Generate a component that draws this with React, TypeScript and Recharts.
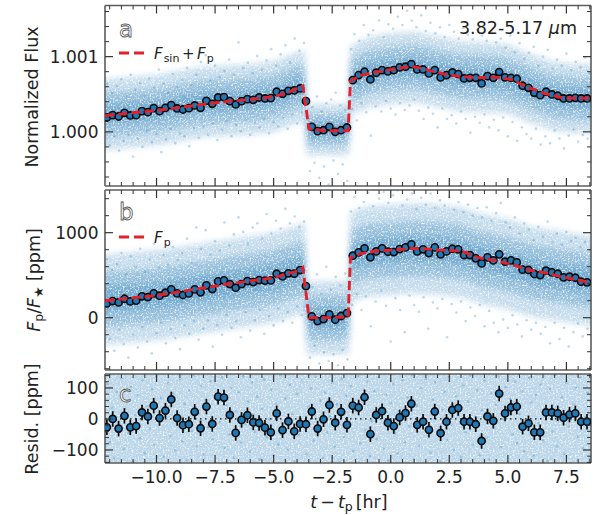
import React from 'react';
import { ComposedChart, XAxis, YAxis, Scatter, Line, Area, ErrorBar, ReferenceLine } from 'recharts';

// ---------- bins: time (hr) and values ----------
const binTimes = [-12.12,-11.87,-11.62,-11.37,-11.12,-10.87,-10.62,-10.37,-10.12,-9.87,-9.62,-9.37,-9.12,-8.87,-8.62,-8.37,-8.12,-7.87,-7.62,-7.37,-7.12,-6.87,-6.62,-6.37,-6.12,-5.87,-5.62,-5.37,-5.12,-4.87,-4.62,-4.37,-4.12,-3.87,-3.62,-3.37,-3.12,-2.87,-2.62,-2.37,-2.12,-1.87,-1.62,-1.37,-1.12,-0.87,-0.62,-0.37,-0.12,0.13,0.38,0.63,0.88,1.13,1.38,1.63,1.88,2.13,2.38,2.63,2.88,3.13,3.38,3.63,3.88,4.13,4.38,4.63,4.88,5.13,5.38,5.63,5.88,6.13,6.38,6.63,6.88,7.13,7.38,7.63,7.88,8.13,8.38];
const fluxBinsPpm = [191,222,204,253,218,222,275,262,315,275,320,355,311,297,315,351,320,413,373,457,462,408,364,408,435,426,457,444,448,533,506,546,551,577,408,67,9,22,67,0,22,58,688,755,799,697,786,821,804,821,857,866,901,830,830,777,821,724,755,790,768,710,719,719,644,741,719,795,724,719,706,613,586,519,488,533,497,480,444,444,453,444,444];
const planetBins = [169,196,180,223,192,200,251,243,286,259,294,333,286,267,286,333,298,380,337,427,439,396,353,396,431,419,443,435,439,517,486,521,517,560,372,16,-39,-16,39,-24,20,55,729,768,815,710,780,815,776,772,807,827,862,780,804,760,827,745,780,811,804,737,737,698,639,710,674,745,659,674,651,565,561,514,502,553,533,517,474,482,470,423,416];
const residBins = [-27,0,-31,10,-27,-23,21,8,43,3,27,63,3,-20,-17,23,-30,40,-16,72,69,13,-45,-3,12,-11,-13,-28,-43,18,-36,-8,-40,-16,-17,24,-31,-1,45,-12,23,-19,43,37,70,-49,13,25,-12,-23,5,19,49,-19,-9,-35,24,-46,-9,29,35,-9,-9,-17,-71,8,-6,82,18,37,40,-25,-14,-43,-43,21,21,18,4,14,18,-9,-9];
const binErrorPpm = 25;

// ---------- models ----------
const modelTimes = [-12.2,-10,-8,-7,-6,-5,-4.5,-3.9,-3.75,-3.49,-2.8,-1.82,-1.72,-1.25,-0.54,0.17,0.88,1.6,2.31,3.02,3.73,4.44,5.16,5.87,6.58,7.29,8,8.55];
const modelFluxPpm = [215,285,365,405,430,470,510,590,610,40,15,15,675,755,800,835,875,821,768,733,719,728,697,590,510,457,444,453];
const modelPlanet = [200,262,350,396,431,470,510,555,590,0,0,10,706,757,788,796,815,807,792,785,706,674,627,561,529,482,443,412];

// ---------- cloud density envelopes ----------
const bandTimes = [-12.63,-10,-8,-6,-5,-4,-3.65,-3.6,-1.78,-1.74,-1,0,1,2,3,4,5,6,7,8,8.98];
const aOuterHi = [690,760,870,900,940,1060,1080,370,370,1130,1260,1310,1330,1270,1200,1190,1160,1030,930,900,910];
const aOuterLo = [-250,-180,-70,-40,0,120,140,-310,-310,220,320,370,390,330,270,260,240,110,10,-20,-10];
const aMidHi = [505,575,685,720,760,880,900,240,240,965,1080,1130,1150,1090,1025,1015,990,860,760,730,740];
const aMidLo = [-75,-5,105,140,180,300,320,-180,-180,385,500,550,570,510,445,435,410,280,180,150,160];
const aInHi = [345,415,525,560,600,720,740,130,130,805,920,970,990,930,865,855,830,700,600,570,580];
const aInLo = [85,155,265,300,340,460,480,-70,-70,545,660,710,730,670,605,595,570,440,340,310,320];
const bOuterHi = [730,792,875,961,1000,1085,1120,430,430,1236,1310,1326,1345,1330,1300,1210,1160,1070,1030,985,945];
const bOuterLo = [-330,-268,-185,-99,-60,25,60,-430,-430,176,250,266,285,270,240,150,100,10,-30,-75,-115];
const bMidHi = [520,582,665,751,790,875,910,270,270,1026,1100,1116,1135,1120,1090,1000,950,860,820,775,735];
const bMidLo = [-120,-58,25,111,150,235,270,-270,-270,386,460,476,495,480,450,360,310,220,180,135,95];
const bInHi = [350,412,495,581,620,705,740,130,130,856,930,946,965,950,920,830,780,690,650,605,565];
const bInLo = [50,112,195,281,320,405,440,-130,-130,556,630,646,665,650,620,530,480,390,350,305,265];
const cBandTimes = [-12.63,8.98];
const cBandHi = [190,190];
const cBandLo = [-190,-190];

// ---------- individual exposures, estimated by eye ----------
const cloudAPpm = [[-12.1,640],[-12,-180],[-11.9,520],[-11.8,-60],[-11.7,610],[-11.6,-250],[-11.5,700],[-11.4,-120],[-11.3,480],[-11.2,-40],[-11.1,760],[-11,-330],[-10.9,560],[-10.8,-90],[-10.7,650],[-10.6,-200],[-10.5,470],[-10.4,20],[-10.3,710],[-10.2,-140],[-10.1,590],[-10,-30],[-9.9,830],[-9.8,-270],[-9.7,640],[-9.6,-100],[-9.5,520],[-9.4,40],[-9.3,770],[-9.2,-150],[-9.1,600],[-9,-20],[-8.9,690],[-8.8,-60],[-8.7,850],[-8.6,-190],[-8.5,620],[-8.4,50],[-8.3,760],[-8.2,-80],[-8.1,930],[-8,70],[-7.9,1020],[-7.8,-40],[-7.7,680],[-7.6,110],[-7.5,880],[-7.4,-110],[-7.3,730],[-7.2,30],[-7.1,810],[-7,140],[-6.9,960],[-6.8,-60],[-6.7,760],[-6.6,90],[-6.5,1190],[-6.4,10],[-6.3,850],[-6.2,160],[-6.1,920],[-6,-40],[-5.9,780],[-5.8,120],[-5.7,1010],[-5.6,60],[-5.5,830],[-5.4,170],[-5.3,950],[-5.2,-20],[-5.1,1100],[-5,130],[-4.9,880],[-4.8,70],[-4.7,1030],[-4.6,190],[-4.5,1150],[-4.4,40],[-4.3,920],[-4.2,230],[-4.1,1240],[-4,110],[-3.9,1080],[-3.8,260],[-3.7,1180],[-3.45,-520],[-3.35,330],[-3.25,-410],[-3.15,470],[-3.05,-610],[-2.95,270],[-2.85,-460],[-2.75,380],[-2.65,-700],[-2.55,430],[-2.45,-380],[-2.35,520],[-2.25,-560],[-2.15,350],[-2.05,-430],[-1.95,290],[-1.85,-650],[-1.7,1100],[-1.65,300],[-1.55,1300],[-1.45,150],[-1.35,1210],[-1.25,380],[-1.15,1420],[-1.05,260],[-0.95,1290],[-0.85,-50],[-0.75,1350],[-0.65,340],[-0.5,1480],[-0.4,270],[-0.3,1260],[-0.2,410],[-0.1,1430],[0,310],[0.1,1370],[0.2,230],[0.3,1530],[0.4,380],[0.5,1420],[0.6,290],[0.7,1610],[0.8,350],[0.9,1480],[1,430],[1.1,1390],[1.2,280],[1.3,1550],[1.4,170],[1.5,1340],[1.6,320],[1.7,1450],[1.8,240],[1.9,1310],[2,60],[2.1,1390],[2.2,310],[2.3,1260],[2.4,170],[2.5,1420],[2.6,220],[2.7,1330],[2.8,110],[2.9,1240],[3,270],[3.1,1380],[3.2,170],[3.3,1290],[3.4,-10],[3.5,1230],[3.6,200],[3.7,1360],[3.8,120],[3.9,1280],[4,230],[4.1,1210],[4.2,60],[4.3,1320],[4.4,160],[4.5,1190],[4.6,20],[4.7,1240],[4.8,190],[4.9,1120],[5,-60],[5.1,1280],[5.2,130],[5.3,1060],[5.4,-120],[5.5,1180],[5.6,60],[5.7,970],[5.8,-30],[5.9,1050],[6,-90],[6.1,1130],[6.2,40],[6.3,880],[6.4,-170],[6.5,1000],[6.6,-60],[6.7,1090],[6.8,-150],[6.9,840],[7,20],[7.1,960],[7.2,-90],[7.3,880],[7.4,-220],[7.5,1040],[7.6,-50],[7.7,820],[7.8,30],[7.9,930],[8,-130],[8.1,860],[8.2,-40],[8.3,990],[8.4,-90],[8.5,780]];
const cloudB = [[-12.1,690],[-12,-250],[-11.9,560],[-11.8,-390],[-11.7,630],[-11.6,-140],[-11.5,760],[-11.4,-310],[-11.3,510],[-11.2,-470],[-11.1,720],[-11,-200],[-10.9,600],[-10.8,-350],[-10.7,810],[-10.6,-110],[-10.5,540],[-10.4,-280],[-10.3,680],[-10.2,-420],[-10.1,870],[-10,-180],[-9.9,590],[-9.8,-60],[-9.7,740],[-9.6,-300],[-9.5,620],[-9.4,-130],[-9.3,830],[-9.2,-240],[-9.1,680],[-9,-370],[-8.9,760],[-8.8,-90],[-8.7,930],[-8.6,-190],[-8.5,640],[-8.4,-40],[-8.3,1060],[-8.2,-260],[-8.1,810],[-8,-130],[-7.9,1030],[-7.8,-30],[-7.7,740],[-7.6,-340],[-7.5,900],[-7.4,-90],[-7.3,790],[-7.2,-200],[-7.1,1120],[-7,30],[-6.9,850],[-6.8,-120],[-6.7,980],[-6.6,-40],[-6.5,1180],[-6.4,-230],[-6.3,1010],[-6.2,60],[-6.1,870],[-6,-150],[-5.9,1060],[-5.8,-30],[-5.7,1110],[-5.6,90],[-5.5,930],[-5.4,-190],[-5.3,1220],[-5.2,20],[-5.1,990],[-5,-90],[-4.9,1140],[-4.8,110],[-4.7,1050],[-4.6,-40],[-4.5,1280],[-4.4,70],[-4.3,1110],[-4.2,-60],[-4.1,1190],[-4,130],[-3.9,1070],[-3.8,30],[-3.7,1130],[-3.45,-470],[-3.35,360],[-3.25,-330],[-3.15,510],[-3.05,-540],[-2.95,280],[-2.85,-410],[-2.75,600],[-2.65,-510],[-2.55,330],[-2.45,-430],[-2.35,480],[-2.25,-560],[-2.15,380],[-2.05,-380],[-1.95,520],[-1.85,-490],[-1.7,1250],[-1.65,150],[-1.55,1420],[-1.45,280],[-1.35,1290],[-1.25,90],[-1.15,1360],[-1.05,250],[-0.95,1470],[-0.85,-100],[-0.75,1310],[-0.65,190],[-0.5,1400],[-0.4,320],[-0.3,1480],[-0.2,140],[-0.1,1350],[0,-280],[0.1,1440],[0.2,230],[0.3,1500],[0.4,90],[0.5,1320],[0.6,-170],[0.7,1390],[0.8,260],[0.9,1460],[1,150],[1.1,1280],[1.2,70],[1.3,1410],[1.4,240],[1.5,1330],[1.6,-130],[1.7,1460],[1.8,180],[1.9,1290],[2,110],[2.1,1380],[2.2,220],[2.3,1320],[2.4,-230],[2.5,1420],[2.6,160],[2.7,1270],[2.8,60],[2.9,1360],[3,190],[3.1,1240],[3.2,-40],[3.3,1330],[3.4,120],[3.5,1200],[3.6,20],[3.7,1290],[3.8,150],[3.9,1180],[4,-100],[4.1,1300],[4.2,80],[4.3,1140],[4.4,-60],[4.5,1230],[4.6,-170],[4.7,1350],[4.8,-20],[4.9,1120],[5,-120],[5.1,1060],[5.2,30],[5.3,1180],[5.4,-80],[5.5,990],[5.6,-220],[5.7,1110],[5.8,-30],[5.9,1040],[6,-140],[6.1,910],[6.2,-60],[6.3,1070],[6.4,-190],[6.5,950],[6.6,-110],[6.7,1130],[6.8,-300],[6.9,890],[7,-60],[7.1,990],[7.2,-250],[7.3,860],[7.4,-120],[7.5,1010],[7.6,-340],[7.7,900],[7.8,-170],[7.9,940],[8,-70],[8.1,830],[8.2,-220],[8.3,890],[8.4,-130],[8.5,790]];
const cloudC = [[-12.1,112],[-12,-74],[-11.9,36],[-11.8,-128],[-11.7,88],[-11.6,-22],[-11.5,131],[-11.4,-97],[-11.3,58],[-11.2,-46],[-11.1,104],[-11,-136],[-10.9,12],[-10.8,76],[-10.7,-63],[-10.6,125],[-10.5,-110],[-10.4,41],[-10.3,-31],[-10.2,96],[-10.1,-84],[-10,137],[-9.9,-14],[-9.8,68],[-9.7,-122],[-9.6,29],[-9.5,115],[-9.4,-56],[-9.3,83],[-9.2,-101],[-9.1,-5],[-9,129],[-8.9,-72],[-8.8,49],[-8.7,-133],[-8.6,92],[-8.5,-38],[-8.4,140],[-8.3,-88],[-8.2,18],[-8.1,107],[-8,-115],[-7.9,61],[-7.8,-27],[-7.7,122],[-7.6,-66],[-7.5,-139],[-7.4,79],[-7.3,-9],[-7.2,134],[-7.1,-93],[-7,44],[-6.9,-50],[-6.8,101],[-6.7,-125],[-6.6,24],[-6.5,86],[-6.4,-77],[-6.3,138],[-6.2,-18],[-6.1,55],[-6,-106],[-5.9,118],[-5.8,-41],[-5.7,72],[-5.6,-131],[-5.5,33],[-5.4,127],[-5.3,-60],[-5.2,-2],[-5.1,94],[-5,-118],[-4.9,50],[-4.8,-82],[-4.7,141],[-4.6,-33],[-4.5,66],[-4.4,-99],[-4.3,110],[-4.2,15],[-4.1,-137],[-4,81],[-3.9,-52],[-3.8,124],[-3.7,-12],[-3.6,-113],[-3.5,39],[-3.4,98],[-3.3,-70],[-3.2,136],[-3.1,-29],[-3,59],[-2.9,-126],[-2.8,85],[-2.7,-44],[-2.6,8],[-2.5,116],[-2.4,-90],[-2.3,47],[-2.2,-140],[-2.1,130],[-2,-58],[-1.9,74],[-1.8,-16],[-1.7,105],[-1.6,-103],[-1.5,26],[-1.4,139],[-1.3,-79],[-1.2,63],[-1.1,-35],[-1,120],[-0.9,-120],[-0.8,-7],[-0.7,90],[-0.6,-65],[-0.5,133],[-0.4,37],[-0.3,-95],[-0.2,78],[-0.1,-134],[0,52],[0.1,113],[0.2,-47],[0.3,-111],[0.4,20],[0.5,126],[0.6,-75],[0.7,69],[0.8,-24],[0.9,142],[1,-129],[1.1,43],[1.2,-86],[1.3,99],[1.4,-3],[1.5,128],[1.6,-54],[1.7,-108],[1.8,62],[1.9,119],[2,-37],[2.1,-138],[2.2,31],[2.3,87],[2.4,-68],[2.5,135],[2.6,-19],[2.7,-100],[2.8,73],[2.9,10],[3,-123],[3.1,108],[3.2,-43],[3.3,56],[3.4,140],[3.5,-83],[3.6,-11],[3.7,93],[3.8,-116],[3.9,28],[4,123],[4.1,-61],[4.2,-130],[4.3,82],[4.4,-26],[4.5,46],[4.6,137],[4.7,-91],[4.8,-1],[4.9,102],[5,-141],[5.1,65],[5.2,-49],[5.3,121],[5.4,-78],[5.5,16],[5.6,89],[5.7,-104],[5.8,-32],[5.9,132],[6,53],[6.1,-119],[6.2,77],[6.3,-13],[6.4,111],[6.5,-69],[6.6,35],[6.7,-135],[6.8,97],[6.9,-40],[7,142],[7.1,-88],[7.2,22],[7.3,70],[7.4,-112],[7.5,117],[7.6,-25],[7.7,-142],[7.8,48],[7.9,100],[8,-57],[8.1,134],[8.2,-94],[8.3,6],[8.4,84],[8.5,-127]];

// ---------- axis ticks ----------
const xMajor = [-10,-7.5,-5,-2.5,0,2.5,5,7.5];
const xTicks = [-12,-11.5,-11,-10.5,-10,-9.5,-9,-8.5,-8,-7.5,-7,-6.5,-6,-5.5,-5,-4.5,-4,-3.5,-3,-2.5,-2,-1.5,-1,-0.5,0,0.5,1,1.5,2,2.5,3,3.5,4,4.5,5,5.5,6,6.5,7,7.5,8,8.5];
const aMajor = [1,1.001];
const aTicks = [0.9994,0.9996,0.9998,1,1.0002,1.0004,1.0006,1.0008,1.001,1.0012,1.0014,1.0016];
const bMajor = [0,1000];
const bTicks = [-600,-400,-200,0,200,400,600,800,1000,1200,1400];
const cMajor = [-100,0,100];
const cTicks = [-140,-120,-100,-80,-60,-40,-20,0,20,40,60,80,100,120,140];

const xDomain = [-12.2,8.55];
const aDomain = [0.99928,1.00168];
const bDomain = [-615,1502];
const cDomain = [-142,145];

const BLUE = '#1f77b4';
const RED = '#e3202c';
const FONT = '"DejaVu Sans", sans-serif';
const SPINE = '#5c5c5c';
const TICK = '#333333';
const INK = '#222222';
const PLOT_LEFT = 105;
const PLOT_RIGHT = 591;
const PAD = 10;

const flux = (ppm: number) => 1 + ppm / 1e6;
const isMajor = (v: number, majors: number[]) => majors.some((m) => Math.abs(m - v) < 1e-7);
const minus = (s: string) => s.replace('-', '\u2212');

const tick = (side: string, majors: number[], label?: (v: number) => string) => (p: any) => {
  const v = p.payload.value;
  const major = isMajor(v, majors);
  const len = major ? 8 : 4;
  const { x, y } = p;
  const line =
    side === 'bottom' ? [x, y, x, y - len] :
    side === 'top' ? [x, y, x, y + len] :
    side === 'left' ? [x, y, x + len, y] : [x, y, x - len, y];
  return (
    <g>
      <line x1={line[0]} y1={line[1]} x2={line[2]} y2={line[3]} stroke={TICK} strokeWidth={major ? 1.2 : 1} />
      {major && label && side === 'bottom' && (
        <text x={x} y={y + 19.5} textAnchor="middle" fontSize={17} fill={INK} fontFamily={FONT}>{label(v)}</text>
      )}
      {major && label && side === 'left' && (
        <text x={x - 6.5} y={y + 6} textAnchor="end" fontSize={17} fill={INK} fontFamily={FONT}>{label(v)}</text>
      )}
    </g>
  );
};

const axisLine = { stroke: SPINE, strokeWidth: 1.6 };
const axes = (yDomain: number[], yTicks: number[], yMajor: number[], yLabel: (v: number) => string, xLabel?: (v: number) => string) => [
  <XAxis key="xb" xAxisId="b" type="number" dataKey="x" orientation="bottom" height={1} domain={xDomain} ticks={xTicks} interval={0} allowDataOverflow tickSize={0} tickMargin={0} tickLine={false} axisLine={axisLine} tick={tick('bottom', xMajor, xLabel)} />,
  <XAxis key="xt" xAxisId="t" type="number" dataKey="x" orientation="top" height={1} domain={xDomain} ticks={xTicks} interval={0} allowDataOverflow tickSize={0} tickMargin={0} tickLine={false} axisLine={axisLine} tick={tick('top', xMajor)} />,
  <YAxis key="yl" yAxisId="l" type="number" dataKey="y" orientation="left" width={1} domain={yDomain} ticks={yTicks} interval={0} allowDataOverflow tickSize={0} tickMargin={0} tickLine={false} axisLine={axisLine} tick={tick('left', yMajor, yLabel)} />,
  <YAxis key="yr" yAxisId="r" type="number" dataKey="y" orientation="right" width={1} domain={yDomain} ticks={yTicks} interval={0} allowDataOverflow tickSize={0} tickMargin={0} tickLine={false} axisLine={axisLine} tick={tick('right', yMajor)} />,
];
const hiddenAxes = (xDom: number[], yDom: number[]) => [
  <XAxis key="hx" xAxisId="b" hide type="number" dataKey="x" domain={xDom} allowDataOverflow />,
  <YAxis key="hy" yAxisId="l" hide type="number" dataKey="y" domain={yDom} allowDataOverflow />,
];

const bandData = (times: number[], hi: number[], lo: number[], f: (v: number) => number) =>
  times.map((x, i) => ({ x, lo: f(lo[i]), hi: f(hi[i]) }));
const seriesData = (times: number[], ys: number[], f: (v: number) => number) =>
  times.map((x, i) => ({ x, y: f(ys[i]) }));
const id = (v: number) => v;

const CloudDot = (p: any) => <circle cx={p.cx} cy={p.cy} r={1.3} fill={BLUE} fillOpacity={0.28} />;
const BinDot = (p: any) => <circle cx={p.cx} cy={p.cy} r={3.6} fill={BLUE} stroke="#0a0a0a" strokeWidth={1.6} />;

const ids = { xAxisId: 'b', yAxisId: 'l' };

const band = (key: string, data: any[], opacity: number) => (
  <Area key={key} {...ids} data={data} dataKey={(d: any) => [d.lo, d.hi]} type="linear" stroke="none" fill={BLUE} fillOpacity={opacity} dot={false} activeDot={false} isAnimationActive={false} />
);

const layer: React.CSSProperties = { position: 'absolute', left: 0, top: 0 };

function Panel(props: { top: number; bottom: number; children: React.ReactNode }) {
  return (
    <div style={layer}>
      <ComposedChart width={595} height={515} margin={{ top: props.top - 1, left: PLOT_LEFT - 1, right: 595 - PLOT_RIGHT - 1, bottom: 515 - props.bottom - 1 }}>
        {props.children}
      </ComposedChart>
    </div>
  );
}

function OverlayPanel(props: { top: number; bottom: number; yDomain: number[]; children: React.ReactNode }) {
  return (
    <div style={layer}>
      <ComposedChart width={595} height={515} margin={{ top: props.top, left: PLOT_LEFT, right: 595 - PLOT_RIGHT, bottom: 515 - props.bottom }}>
        {hiddenAxes(xDomain, props.yDomain)}
        {props.children}
      </ComposedChart>
    </div>
  );
}

// Density bands sit in their own clipped layer, softened by the #mottle filter.
function BandLayer(props: { top: number; bottom: number; yDomain: number[]; children: React.ReactNode }) {
  const { top, bottom, yDomain } = props;
  const xPer = (xDomain[1] - xDomain[0]) / (PLOT_RIGHT - PLOT_LEFT);
  const yPer = (yDomain[1] - yDomain[0]) / (bottom - top);
  const xd = [xDomain[0] - PAD * xPer, xDomain[1] + PAD * xPer];
  const yd = [yDomain[0] - PAD * yPer, yDomain[1] + PAD * yPer];
  return (
    <div style={{ position: 'absolute', left: PLOT_LEFT, top, width: PLOT_RIGHT - PLOT_LEFT, height: bottom - top, overflow: 'hidden' }}>
      <div style={{ position: 'absolute', left: -PLOT_LEFT - PAD, top: -top - PAD, filter: 'url(#mottle)' }}>
        <ComposedChart width={595 + 2 * PAD} height={515 + 2 * PAD} margin={{ top, left: PLOT_LEFT, right: 595 - PLOT_RIGHT, bottom: 515 - bottom }}>
          {hiddenAxes(xd, yd)}
          {props.children}
        </ComposedChart>
      </div>
    </div>
  );
}

const fluxBins = binTimes.map((x, i) => ({ x, y: flux(fluxBinsPpm[i]), err: binErrorPpm / 1e6 }));
const planetBinData = binTimes.map((x, i) => ({ x, y: planetBins[i], err: binErrorPpm }));
const residBinData = binTimes.map((x, i) => ({ x, y: residBins[i], err: binErrorPpm }));

const fluxLabel = (v: number) => v.toFixed(3);
const plainLabel = (v: number) => minus(String(v));
const xLabelFmt = (v: number) => minus(v.toFixed(1));

const PanelTag = (p: { x: number; y: number; t: string }) => (
  <text x={p.x} y={p.y} fontSize={23} fill="#ffffff" stroke="#555555" strokeWidth={0.8} fontFamily={FONT}>{p.t}</text>
);

const LegendKey = (p: { y: number }) => (
  <line x1={119} x2={146} y1={p.y} y2={p.y} stroke={RED} strokeWidth={2.9} strokeDasharray="10 5" />
);

export default function App() {
  return (
    <div style={{ position: 'absolute', left: 0, top: 0, width: 595, height: 515, background: '#fff', fontFamily: FONT }}>
      <svg width={0} height={0} style={{ position: 'absolute' }}>
        <defs>
          <filter id="mottle" x="0" y="0" width="100%" height="100%" colorInterpolationFilters="sRGB">
            <feGaussianBlur in="SourceGraphic" stdDeviation="3" result="soft" />
            <feTurbulence type="fractalNoise" baseFrequency="0.6" numOctaves="2" seed="4" result="noise" />
            <feColorMatrix in="noise" type="matrix" values="0 0 0 0 0  0 0 0 0 0  0 0 0 0 0  2.6 0 0 0 -0.35" result="rawMask" />
            <feGaussianBlur in="rawMask" stdDeviation="0.5" result="mask" />
            <feComposite in="soft" in2="mask" operator="in" />
          </filter>
        </defs>
      </svg>

      <BandLayer top={5.5} bottom={186} yDomain={aDomain}>
        {band('a1', bandData(bandTimes, aOuterHi, aOuterLo, flux), 0.26)}
        {band('a2', bandData(bandTimes, aMidHi, aMidLo, flux), 0.28)}
        {band('a3', bandData(bandTimes, aInHi, aInLo, flux), 0.3)}
      </BandLayer>
      <BandLayer top={190} bottom={370} yDomain={bDomain}>
        {band('b1', bandData(bandTimes, bOuterHi, bOuterLo, id), 0.26)}
        {band('b2', bandData(bandTimes, bMidHi, bMidLo, id), 0.28)}
        {band('b3', bandData(bandTimes, bInHi, bInLo, id), 0.3)}
      </BandLayer>
      <BandLayer top={374} bottom={463} yDomain={cDomain}>
        {band('c1', bandData(cBandTimes, cBandHi, cBandLo, id), 0.3)}
      </BandLayer>

      <Panel top={5.5} bottom={186}>
        {axes(aDomain, aTicks, aMajor, fluxLabel)}
        <Scatter {...ids} data={cloudAPpm.map(([x, y]) => ({ x, y: flux(y) }))} dataKey="y" shape={CloudDot} isAnimationActive={false} />
        <Scatter {...ids} data={fluxBins} dataKey="y" shape={BinDot} isAnimationActive={false}>
          <ErrorBar dataKey="err" direction="y" width={0} stroke="#0a0a0a" strokeWidth={1.5} isAnimationActive={false} />
        </Scatter>
      </Panel>
      <OverlayPanel top={5.5} bottom={186} yDomain={aDomain}>
        <Line {...ids} data={seriesData(modelTimes, modelFluxPpm, flux)} dataKey="y" type="linear" stroke={RED} strokeWidth={2.9} strokeDasharray="9.25 4" dot={false} activeDot={false} isAnimationActive={false} />
      </OverlayPanel>

      <Panel top={190} bottom={370}>
        {axes(bDomain, bTicks, bMajor, plainLabel)}
        <Scatter {...ids} data={cloudB.map(([x, y]) => ({ x, y }))} dataKey="y" shape={CloudDot} isAnimationActive={false} />
        <Scatter {...ids} data={planetBinData} dataKey="y" shape={BinDot} isAnimationActive={false}>
          <ErrorBar dataKey="err" direction="y" width={0} stroke="#0a0a0a" strokeWidth={1.5} isAnimationActive={false} />
        </Scatter>
      </Panel>
      <OverlayPanel top={190} bottom={370} yDomain={bDomain}>
        <Line {...ids} data={seriesData(modelTimes, modelPlanet, id)} dataKey="y" type="linear" stroke={RED} strokeWidth={2.9} strokeDasharray="9.25 4" dot={false} activeDot={false} isAnimationActive={false} />
      </OverlayPanel>

      <Panel top={374} bottom={463}>
        {axes(cDomain, cTicks, cMajor, plainLabel, xLabelFmt)}
        <Scatter {...ids} data={cloudC.map(([x, y]) => ({ x, y }))} dataKey="y" shape={CloudDot} isAnimationActive={false} />
        <ReferenceLine {...ids} y={0} stroke="#111" strokeWidth={1.3} strokeDasharray="1.5 3.5" />
        <Scatter {...ids} data={residBinData} dataKey="y" shape={BinDot} isAnimationActive={false}>
          <ErrorBar dataKey="err" direction="y" width={0} stroke="#0a0a0a" strokeWidth={1.7} isAnimationActive={false} />
        </Scatter>
      </Panel>

      <svg width={595} height={515} style={{ ...layer, pointerEvents: 'none' }} fontFamily={FONT} fill={INK}>
        <PanelTag x={119} y={36.5} t="a" />
        <PanelTag x={119} y={220} t="b" />
        <PanelTag x={119} y={401.5} t="c" />
        <LegendKey y={53} />
        <text x={154} y={59} fontSize={15}>
          <tspan fontStyle="italic">F</tspan><tspan fontSize={11} dy={3} dx={1}>sin</tspan><tspan dy={-3} dx={2.5}>+</tspan><tspan dx={2.5} fontStyle="italic">F</tspan><tspan fontSize={11} dy={3} dx={1}>p</tspan>
        </text>
        <LegendKey y={237} />
        <text x={154} y={243} fontSize={15}>
          <tspan fontStyle="italic">F</tspan><tspan fontSize={11} dy={3} dx={1}>p</tspan>
        </text>
        <text x={577} y={34} fontSize={17.5} textAnchor="end">3.82-5.17 <tspan fontStyle="italic">μ</tspan>m</text>
        <text transform="translate(38,97) rotate(-90)" fontSize={17.5} textAnchor="middle">Normalized Flux</text>
        <text transform="translate(40,280) rotate(-90)" fontSize={17.5} textAnchor="middle">
          <tspan fontStyle="italic">F</tspan><tspan fontSize={12.5} dy={3}>p</tspan><tspan dy={-3}>/</tspan><tspan fontStyle="italic">F</tspan><tspan fontSize={12.5} dy={3}>★</tspan><tspan dy={-3}> [ppm]</tspan>
        </text>
        <text transform="translate(38,419) rotate(-90)" fontSize={17.5} textAnchor="middle">Resid. [ppm]</text>
        <text x={349} y={508} fontSize={17.5} textAnchor="middle">
          <tspan fontStyle="italic">t</tspan><tspan dx={3}>−</tspan><tspan dx={3} fontStyle="italic">t</tspan><tspan fontSize={12.5} dy={3}>p</tspan><tspan dy={-3} dx={3}>[hr]</tspan>
        </text>
      </svg>
    </div>
  );
}
